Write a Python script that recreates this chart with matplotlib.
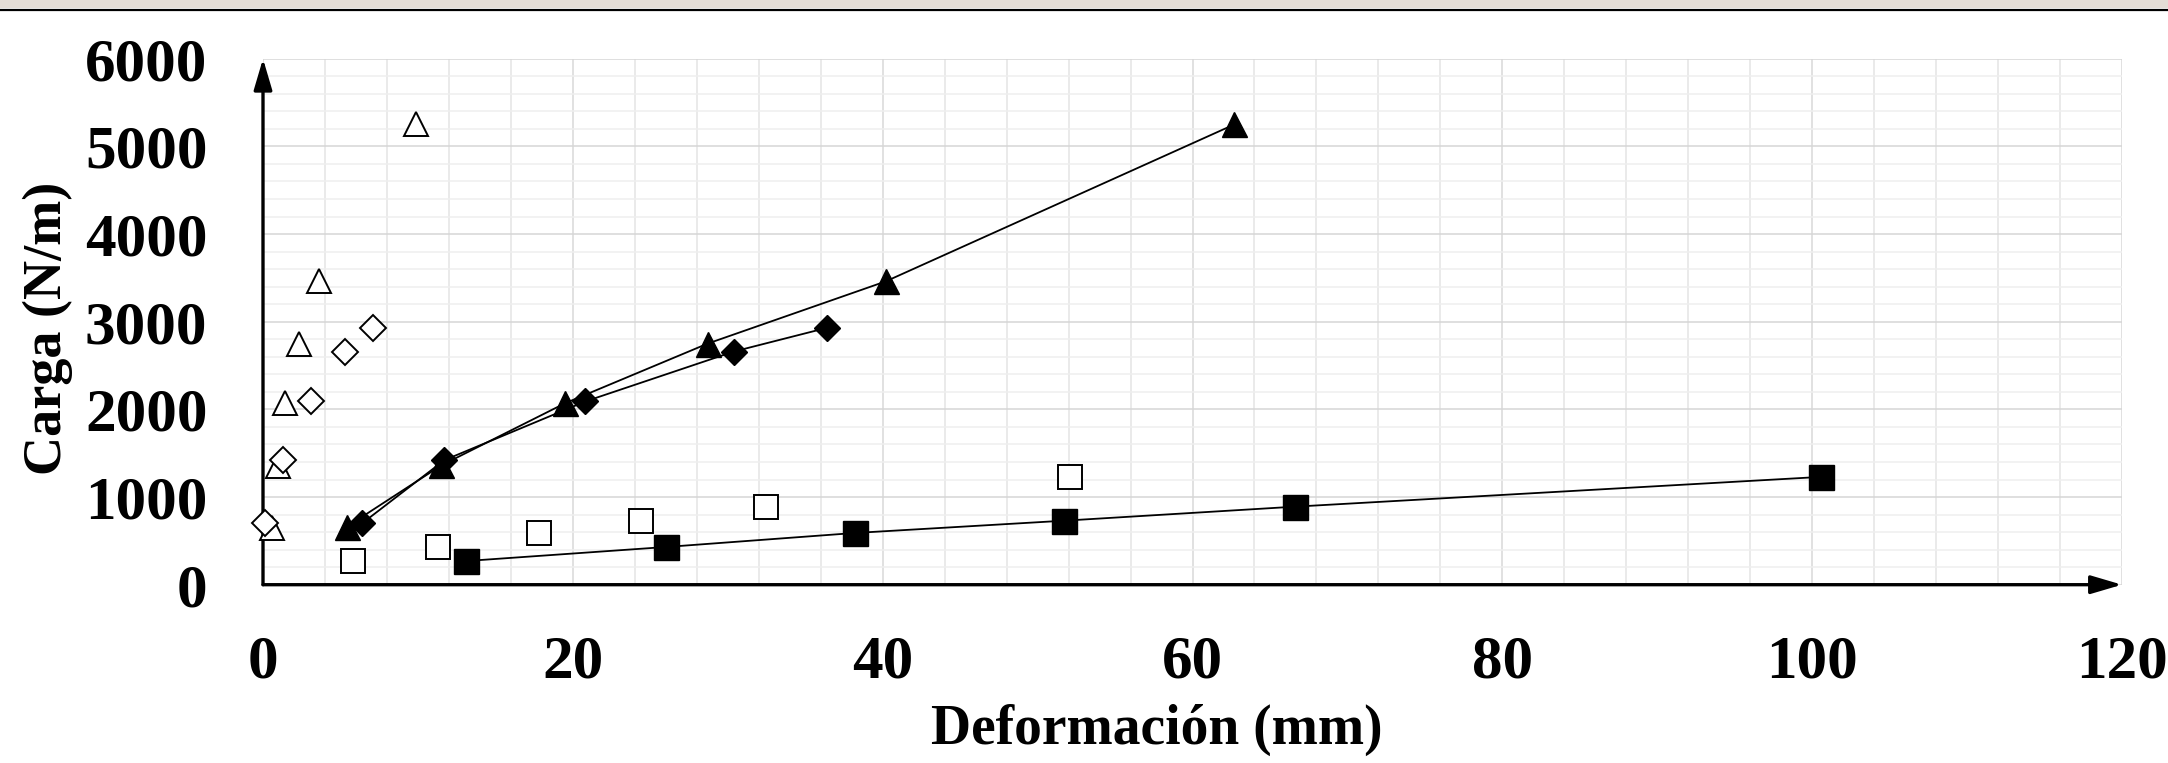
import matplotlib
matplotlib.use("Agg")
import matplotlib.pyplot as plt
from matplotlib.patches import Rectangle
from matplotlib.lines import Line2D
from matplotlib.ticker import MultipleLocator

# Deformación (mm) vs Carga (N/m)
tri_open_x = [0.6, 1.0, 1.4, 2.3, 3.6, 9.9]
tri_open_y = [650, 1350, 2070, 2750, 3460, 5250]
dia_open_x = [0.1, 1.3, 3.1, 5.3, 7.1]
dia_open_y = [700, 1420, 2090, 2660, 2930]
sq_open_x = [5.8, 11.3, 17.8, 24.4, 32.5, 52.1]
sq_open_y = [270, 430, 590, 730, 890, 1230]

tri_fill_x = [5.4, 11.5, 19.5, 28.7, 40.2, 62.7]
tri_fill_y = [660, 1360, 2070, 2750, 3460, 5250]
dia_fill_x = [6.4, 11.7, 20.8, 30.4, 36.4]
dia_fill_y = [700, 1420, 2090, 2660, 2930]
sq_fill_x = [13.1, 26.0, 38.2, 51.7, 66.6, 100.6]
sq_fill_y = [270, 430, 590, 730, 890, 1230]

x_ticks = [0, 20, 40, 60, 80, 100, 120]
y_ticks = [0, 1000, 2000, 3000, 4000, 5000, 6000]

plt.rcParams['font.family'] = ['Liberation Serif', 'DejaVu Serif']
plt.rcParams['font.weight'] = 'bold'

W, H = 2168, 763
fig = plt.figure(figsize=(W / 100, H / 100), dpi=100)
fig.patch.set_facecolor('white')

# strip of the page above the chart
fig.patches.append(Rectangle((0, 1 - 8 / H), 1, 8 / H, transform=fig.transFigure,
                             facecolor='#e4ddd6', edgecolor='none'))
fig.lines.append(Line2D([0, 1], [1 - 9.5 / H, 1 - 9.5 / H], transform=fig.transFigure,
                        color='black', lw=1.6))

ax = fig.add_axes([263 / W, 1 - 584.7 / H, (2122 - 263) / W, (584.7 - 58.7) / H])
ax.set_xlim(0, 120)
ax.set_ylim(0, 6000)
ax.set_xticks(x_ticks)
ax.set_yticks(y_ticks)
ax.xaxis.set_minor_locator(MultipleLocator(4))
ax.yaxis.set_minor_locator(MultipleLocator(200))
ax.grid(which='major', axis='x', color='#d9d9d9', lw=1.1)
ax.grid(which='minor', axis='x', color='#e4e4e4', lw=1.1)
ax.grid(which='major', axis='y', color='#d6d6d6', lw=1.1)
ax.grid(which='minor', axis='y', color='#efefef', lw=1.1)
ax.set_axisbelow(True)
for s in ax.spines.values():
    s.set_visible(False)
ax.tick_params(which='both', length=0)
ax.tick_params(axis='y', labelsize=44, pad=40)
ax.tick_params(axis='x', labelsize=44, pad=36)

# axes with arrow heads
arrow = dict(arrowstyle='-|>,head_length=0.95,head_width=0.28', lw=2.4, color='black',
             shrinkA=0, shrinkB=0, mutation_scale=20)
ax.annotate('', xy=(1, 0), xytext=(0, 0), xycoords='axes fraction', arrowprops=arrow)
ax.annotate('', xy=(0, 1), xytext=(0, 0), xycoords='axes fraction', arrowprops=arrow)

mk = dict(mec='black', mew=1.4, ls='none', clip_on=False, zorder=4)
ax.plot(tri_open_x, tri_open_y, marker='^', ms=17.5, mfc='white', **mk)
ax.plot(dia_open_x, dia_open_y, marker='D', ms=13.5, mfc='white', **mk)
ax.plot(sq_open_x, sq_open_y, marker='s', ms=17.5, mfc='white', **mk)

ln = dict(color='black', lw=1.3, mec='black', mfc='black', mew=1.0, zorder=5)
ax.plot(tri_fill_x, tri_fill_y, marker='^', ms=18, **ln)
ax.plot(dia_fill_x, dia_fill_y, marker='D', ms=13.5, **ln)
ax.plot(sq_fill_x, sq_fill_y, marker='s', ms=18, **ln)

fig.text(1157 / W, 1 - 730 / H, 'Deformación (mm)', ha='center', va='center',
         fontsize=40, fontweight='bold')
fig.text(48 / W, 1 - 328 / H, 'Carga (N/m)', ha='center', va='center', rotation=90,
         fontsize=39, fontweight='bold')

fig.savefig('out.png', dpi=100, facecolor='white')
